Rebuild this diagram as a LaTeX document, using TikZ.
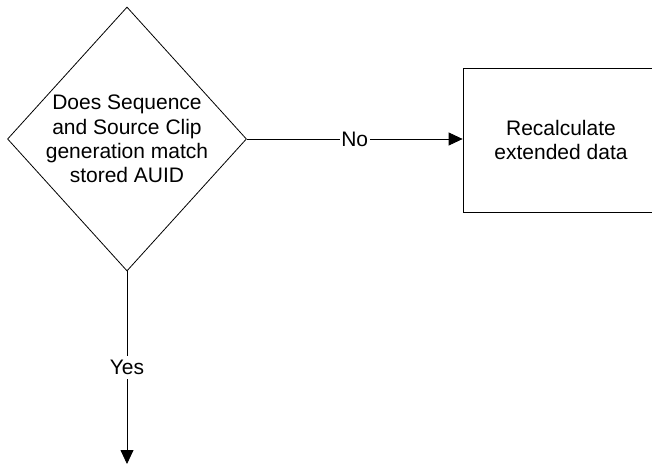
\documentclass[tikz,border=0pt]{standalone}
\usepackage{fontspec}
\setmainfont{Liberation Sans}
\usetikzlibrary{shapes.geometric,arrows.meta}
\begin{document}
\begin{tikzpicture}[x=1pt,y=-1pt,
  line/.style={draw=black,line width=0.8pt},
  flow/.style={line,-{Triangle[length=14pt,width=13pt]}},
  txt/.style={font=\fontsize{21}{24.4}\selectfont,align=center,inner sep=0pt},
  lbl/.style={font=\fontsize{21}{24.4}\selectfont,fill=white,inner xsep=1.5pt,inner ysep=4pt},
  decision/.style={line,diamond,shape aspect=1,minimum width=239pt,minimum height=264pt,inner sep=0pt},
  process/.style={line,rectangle,minimum width=196pt,minimum height=144pt,inner sep=0pt}]
  \useasboundingbox (0,0) rectangle (652,465);
  \clip (0,0) rectangle (652,465);
  % decision diamond and its question
  \node[decision] (dia) at (127,139) {};
  \node[txt] (q) at (dia.center) {Does Sequence\\and Source Clip\\generation match\\stored AUID};
  % process box, running past the right edge
  \node[process] (box) at (561,140) {};
  \node[txt] (r) at (561,140) {Recalculate\\extended data};
  % branches
  \coordinate (end) at (127,464);
  \draw[flow] (dia.east) -- (dia.east -| box.west) node[lbl,midway] (no) {No};
  \draw[flow] (dia.south) -- (end) node[lbl,midway] (yes) {Yes};
\end{tikzpicture}
\end{document}
